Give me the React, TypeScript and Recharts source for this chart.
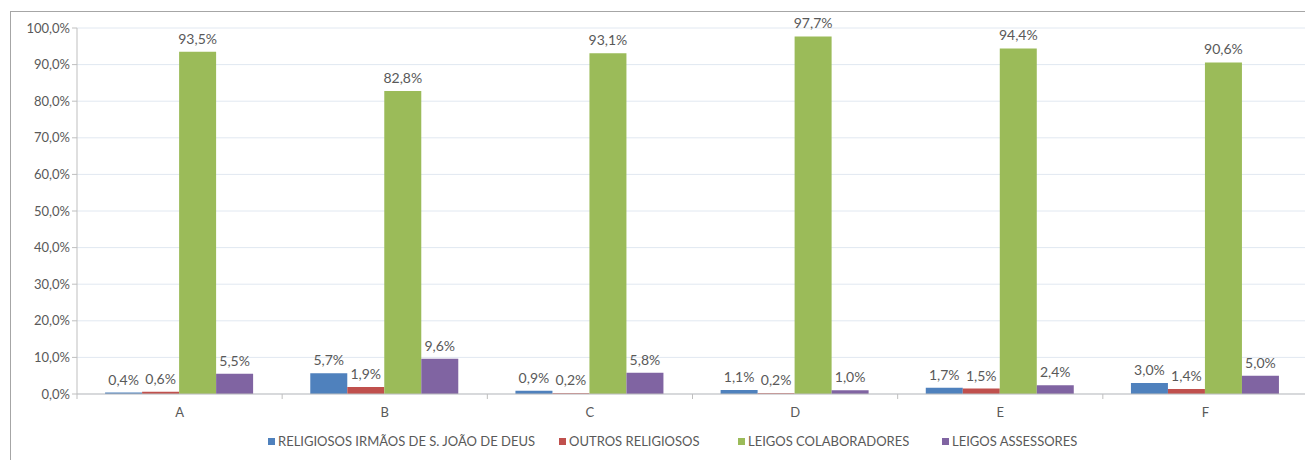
import { Bar, BarChart, CartesianGrid, LabelList, XAxis, YAxis } from 'recharts'

const CATEGORIES = ['A', 'B', 'C', 'D', 'E', 'F']
const RELIGIOSOS_SJD = [0.4, 5.7, 0.9, 1.1, 1.7, 3.0]
const OUTROS_RELIGIOSOS = [0.6, 1.9, 0.2, 0.2, 1.5, 1.4]
const LEIGOS_COLABORADORES = [93.5, 82.8, 93.1, 97.7, 94.4, 90.6]
const LEIGOS_ASSESSORES = [5.5, 9.6, 5.8, 1.0, 2.4, 5.0]
const Y_TICKS = [0, 10, 20, 30, 40, 50, 60, 70, 80, 90, 100]

const SERIES = [
  { key: 'rel', name: 'RELIGIOSOS IRMÃOS DE S. JOÃO DE DEUS', values: RELIGIOSOS_SJD, color: '#4F81BD', legendX: 268 },
  { key: 'out', name: 'OUTROS RELIGIOSOS', values: OUTROS_RELIGIOSOS, color: '#C0504D', legendX: 559 },
  { key: 'col', name: 'LEIGOS COLABORADORES', values: LEIGOS_COLABORADORES, color: '#9BBB59', legendX: 738 },
  { key: 'ass', name: 'LEIGOS ASSESSORES', values: LEIGOS_ASSESSORES, color: '#8064A2', legendX: 942 },
]

const data = CATEGORIES.map((name, i) => {
  const row: Record<string, string | number> = { name }
  SERIES.forEach((s) => (row[s.key] = s.values[i]))
  return row
})

const W = 1313
const H = 460
const M = { top: 28, right: 5, bottom: 36, left: 17 }
const Y_AXIS_W = 60
const BAND = (W - M.left - M.right - Y_AXIS_W) / CATEGORIES.length
const FONT = 'Lato, "Open Sans", sans-serif'
const TEXT = '#595959'

const pct = (v: number) => v.toFixed(1).replace('.', ',') + '%'

function XTick(props: any) {
  const { x, y, payload, index } = props
  const left = x - BAND / 2
  const right = x + BAND / 2
  return (
    <g>
      <line x1={left} x2={left} y1={y - 8} y2={y - 3} stroke="#bfbfbf" />
      {index === CATEGORIES.length - 1 && (
        <line x1={right} x2={right} y1={y - 8} y2={y - 3} stroke="#bfbfbf" />
      )}
      <text x={x} y={y + 15} textAnchor="middle" fill={TEXT} fontSize={13} fontFamily={FONT}>
        {payload.value}
      </text>
    </g>
  )
}

export default function App() {
  return (
    <div style={{ position: 'relative', margin: '-8px 0 0 -8px', width: W, height: H, background: '#fff', overflow: 'hidden' }}>
      <div
        style={{
          position: 'absolute',
          left: 10,
          top: 11,
          width: W,
          height: H,
          borderLeft: '1px solid #a6a6a6',
          borderTop: '1px solid #a6a6a6',
        }}
      />
      <div style={{ position: 'absolute', left: 0, top: 0 }}>
        <BarChart
          width={W}
          height={H}
          data={data}
          margin={M}
          barGap={0}
          barCategoryGap="13.7%"
        >
          <CartesianGrid vertical={false} stroke="#e1e8f1" />
          <XAxis
            dataKey="name"
            axisLine={{ stroke: '#bfbfbf' }}
            tickLine={false}
            tick={<XTick />}
            interval={0}
          />
          <YAxis
            width={Y_AXIS_W}
            domain={[0, 100]}
            ticks={Y_TICKS}
            tickFormatter={pct}
            axisLine={{ stroke: '#bfbfbf' }}
            tickLine={{ stroke: '#bfbfbf' }}
            tickSize={5}
            tick={{ fill: TEXT, fontSize: 13, fontFamily: FONT }}
          />
          {SERIES.map((s) => (
            <Bar key={s.key} dataKey={s.key} name={s.name} fill={s.color} isAnimationActive={false}>
              <LabelList
                dataKey={s.key}
                position="top"
                offset={8}
                formatter={(v: any) => pct(Number(v))}
                style={{ fill: TEXT, fontSize: 14, fontFamily: FONT }}
              />
            </Bar>
          ))}
        </BarChart>
      </div>
      {SERIES.map((s) => (
        <div
          key={s.key}
          style={{
            position: 'absolute',
            left: s.legendX,
            top: 433,
            display: 'flex',
            alignItems: 'center',
            fontFamily: FONT,
            fontSize: 13,
            color: TEXT,
            whiteSpace: 'nowrap',
          }}
        >
          <span style={{ display: 'inline-block', width: 7, height: 7, background: s.color, marginRight: 3 }} />
          {s.name}
        </div>
      ))}
    </div>
  )
}
